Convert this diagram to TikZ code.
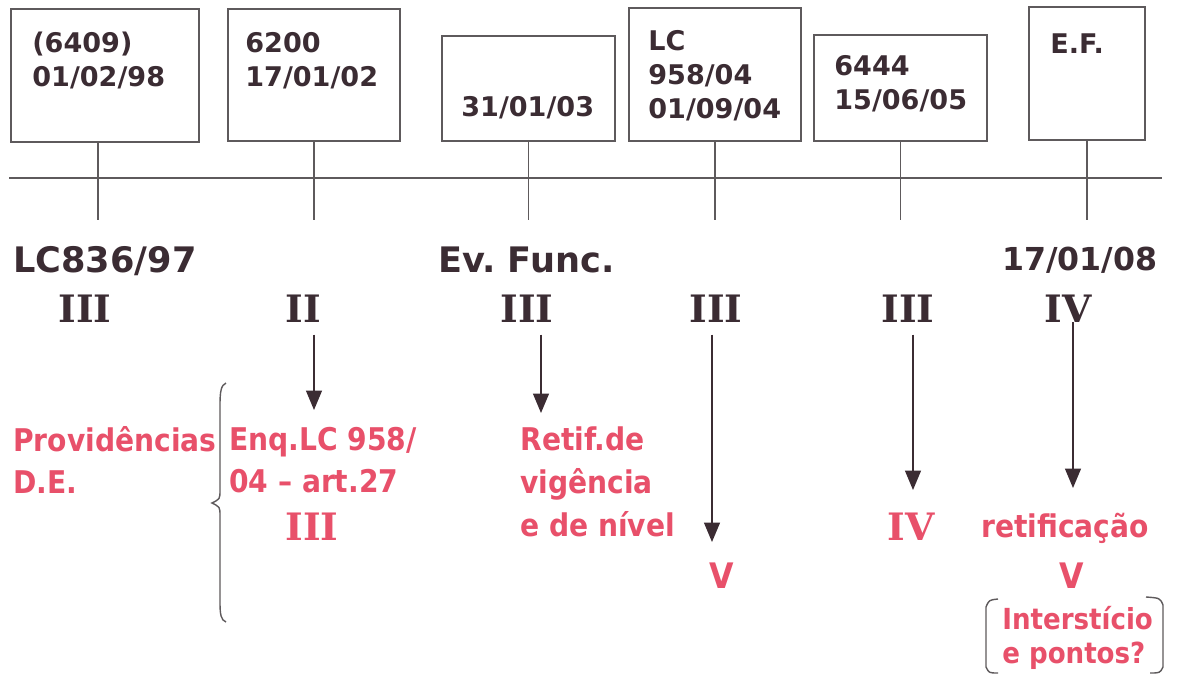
\documentclass[tikz,border=0pt]{standalone}
\usepackage{fontspec}
\setmainfont{DejaVu Sans}
\newfontfamily\condfont{DejaVu Sans Condensed}
\newfontfamily\romanfont{DejaVu Serif}
\usetikzlibrary{arrows.meta}
\definecolor{inkdark}{HTML}{3B2C33}
\definecolor{linegray}{HTML}{5E5A5C}
\definecolor{notered}{HTML}{E8506A}
\frenchspacing

\tikzset{
	datebox/.style={draw=linegray, line width=1pt, inner sep=0pt},
	boxtext/.style={anchor=north west, inner sep=0pt, align=left, text=inkdark,
		font=\bfseries\fontsize{15.4}{19.3}\selectfont},
	law/.style={anchor=base west, inner sep=0pt, text=inkdark,
		font=\bfseries\fontsize{20}{24}\selectfont},
	level/.style={anchor=base, inner sep=0pt, text=inkdark,
		font=\romanfont\bfseries\fontsize{21.5}{24}\selectfont},
	note/.style={anchor=north west, inner sep=0pt, align=left, text=notered,
		font=\condfont\bfseries\fontsize{17.8}{23.8}\selectfont},
	tick/.style={draw=linegray, line width=0.9pt},
	arr/.style={draw=inkdark, line width=0.9pt, shorten <=7pt,
		-{Triangle[width=9pt,length=11pt]}},
}

\begin{document}
\begin{tikzpicture}[x=0.02cm, y=-0.02cm]
			\fill[white] (0,0) rectangle (1178,677);
			\useasboundingbox (0,0) rectangle (1178,677);

			% boxes on top of the time line
			\node[datebox, minimum width=3.76cm, minimum height=2.66cm] (b1) at (105,75.5) {};
			\node[datebox, minimum width=3.44cm, minimum height=2.64cm] (b2) at (314,75) {};
			\node[datebox, minimum width=3.46cm, minimum height=2.10cm] (b3) at (528.5,88.5) {};
			\node[datebox, minimum width=3.44cm, minimum height=2.66cm] (b4) at (715,74.5) {};
			\node[datebox, minimum width=3.46cm, minimum height=2.12cm] (b5) at (900.5,88) {};
			\node[datebox, minimum width=2.32cm, minimum height=2.66cm] (b6) at (1087,73.5) {};

			\node[boxtext] (d1) at (32,32) {(6409)\\01/02/98};
			\node[boxtext] (d2) at (245,32) {6200\\17/01/02};
			\node[boxtext] (d3) at (461,96) {31/01/03};
			\node[boxtext] (d4) at (648,30) {LC\\958/04\\01/09/04};
			\node[boxtext] (d5) at (834,55) {6444\\15/06/05};
			\node[boxtext] (d6) at (1050,33) {E.F.};

			% time line
			\coordinate (lineL) at (9,178);
			\coordinate (lineR) at (1162,178);
			\draw[tick] (lineL) -- (lineR);

			\coordinate (t1) at (98,220);
			\coordinate (t2) at (314,220);
			\coordinate (t3) at (528.5,220);
			\coordinate (t4) at (715,220);
			\coordinate (t5) at (900.5,220);
			\coordinate (t6) at (1087,220);
			\draw[tick] (b1.south -| t1) -- (t1);
			\draw[tick] (b2.south) -- (t2);
			\draw[tick] (b3.south) -- (t3);
			\draw[tick] (b4.south) -- (t4);
			\draw[tick] (b5.south) -- (t5);
			\draw[tick] (b6.south) -- (t6);

			% labels under the line
			\node[law] (lc836) at (13,272) {LC836/97};
			\node[law] (evfunc) at (438,272) {Ev. Func.};
			\node[law, font=\bfseries\fontsize{18}{22}\selectfont] (ef08) at (1002,270) {17/01/08};

			\node[level] (r1) at (85,322) {III};
			\node[level] (r2) at (303,322) {II};
			\node[level] (r3) at (527,322) {III};
			\node[level] (r4) at (716,322) {III};
			\node[level] (r5) at (908,322) {III};
			\node[level] (r6) at (1068,322) {IV};

			% red notes
			\node[note] (prov) at (13,426) {Providências\\D.E.};
			\node[note] (enq) at (229,427) {Enq.LC 958/\\04 – art.27};
			\node[level, text=notered] (enq3) at (312,540) {III};
			\node[note, font=\condfont\bfseries\fontsize{17.8}{24.6}\selectfont] (retif) at (520,426) {Retif.de\\vigência\\e de nível};
			\node[anchor=base, inner sep=0pt, text=notered, font=\condfont\bfseries\fontsize{20}{24}\selectfont] (v4) at (722,588) {V};
			\node[level, text=notered] (iv5) at (911,540) {IV};
			\node[note, anchor=base west] (retif6) at (981,537) {retificação};
			\node[anchor=base, inner sep=0pt, text=notered, font=\condfont\bfseries\fontsize{20}{24}\selectfont] (v6) at (1072,588) {V};
			\node[note, font=\condfont\bfseries\fontsize{16.5}{19.3}\selectfont] (inter) at (1002,606) {Interstício\\e pontos?};

			% arrows
			\coordinate (e2) at (314,410);
			\coordinate (e3) at (541,413);
			\coordinate (e4) at (712,542);
			\coordinate (e5) at (913,490);
			\coordinate (e6) at (1073,488);
			\draw[arr] (r2.south -| e2) -- (e2);
			\draw[arr] (r3.south -| e3) -- (e3);
			\draw[arr] (r4.south -| e4) -- (e4);
			\draw[arr] (r5.south -| e5) -- (e5);
			\draw[arr, shorten <=0pt] (r6.south -| e6) -- (e6);

			% brace and brackets
			\draw[linegray, line width=0.8pt] (226,383) .. controls (221,385) and (220,392) .. (220,405)
				-- (220,490) .. controls (220,499) .. (212,503) .. controls (220,507) .. (220,516)
				-- (220,602) .. controls (220,615) and (221,620) .. (226,622);
			\draw[linegray, line width=0.8pt] (998,599) .. controls (989,600) .. (986,607)
				-- (986,667) .. controls (989,673) .. (998,673);
			\draw[linegray, line width=0.8pt] (1146,597) .. controls (1160,598) .. (1163,605)
				-- (1163,667) .. controls (1160,673) .. (1150,673);
		\end{tikzpicture}
\end{document}
